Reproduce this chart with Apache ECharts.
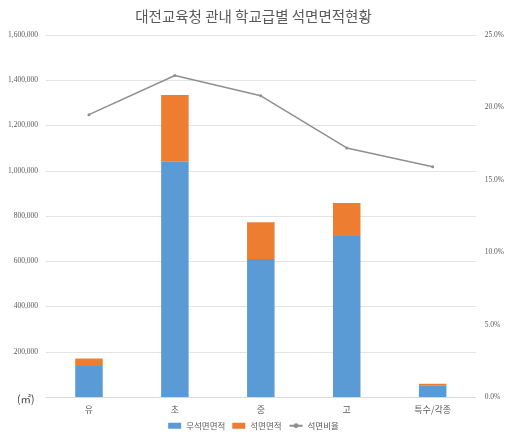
<!DOCTYPE html>
<html><head><meta charset="utf-8">
<script src="https://cdn.jsdelivr.net/npm/echarts@6/dist/echarts.min.js"></script>
<style>html,body{margin:0;padding:0;background:#fff}#c{width:507px;height:438px}</style>
</head><body><div id="c"></div>
<script>
const categories = ['유', '초', '중', '고', '특수/각종'];
const nonAsbestos = [137000, 1040000, 610000, 712000, 49500];
const asbestos = [33000, 295000, 162000, 145000, 9000];
const asbestosRatio = [0.195, 0.222, 0.208, 0.172, 0.159];
const seriesNames = ['무석면면적', '석면면적', '석면비율'];
const titleText = '대전교육청 관내 학교급별 석면면적현황';
const unitText = '(㎡)';

const FONT = '"Noto Sans CJK KR", "Noto Sans", sans-serif';
const chart = echarts.init(document.getElementById('c'));
chart.setOption({
  textStyle: { fontFamily: FONT },
  title: { text: titleText, left: 'center', top: 4,
    textStyle: { fontFamily: FONT, fontSize: 14.5, fontWeight: 'normal', color: '#595959' } },
  grid: { left: 46, right: 31, top: 35, bottom: 41 },
  legend: { bottom: 3, itemWidth: 13, itemHeight: 6, itemGap: 7,
    textStyle: { fontSize: 8.5, color: '#595959' },
    data: [{ name: seriesNames[0], icon: 'rect' }, { name: seriesNames[1], icon: 'rect' }, { name: seriesNames[2] }] },
  graphic: [{ type: 'text', left: 17, top: 394,
    style: { text: unitText, fontSize: 10.5, fill: '#404040', fontFamily: FONT } }],
  xAxis: { type: 'category', data: categories,
    axisLine: { lineStyle: { color: '#d9d9d9' } }, axisTick: { show: false },
    axisLabel: { fontSize: 9, color: '#595959', margin: 8 } },
  yAxis: [
    { type: 'value', min: 0, max: 1600000, interval: 200000,
      axisLine: { show: false }, axisTick: { show: false },
      splitLine: { lineStyle: { color: '#e3e3e3' } },
      axisLabel: { fontSize: 7.5, color: '#595959', margin: 8, fontFamily: '"Liberation Serif", serif',
        formatter: v => v === 0 ? '' : v.toLocaleString('en-US') } },
    { type: 'value', min: 0, max: 0.25, interval: 0.05,
      axisLine: { show: false }, axisTick: { show: false }, splitLine: { show: false },
      axisLabel: { fontSize: 7.5, color: '#595959', margin: 9, fontFamily: '"Liberation Serif", serif',
        formatter: v => (v * 100).toFixed(1) + '%' } }
  ],
  series: [
    { name: seriesNames[0], type: 'bar', stack: 'a', data: nonAsbestos, barWidth: '32%',
      itemStyle: { color: '#5b9bd5' } },
    { name: seriesNames[1], type: 'bar', stack: 'a', data: asbestos,
      itemStyle: { color: '#ed7d31' } },
    { name: seriesNames[2], type: 'line', yAxisIndex: 1, data: asbestosRatio,
      symbol: 'circle', symbolSize: 3,
      lineStyle: { color: '#8f8f8f', width: 1.5 }, itemStyle: { color: '#8f8f8f' } }
  ]
});
</script></body></html>
